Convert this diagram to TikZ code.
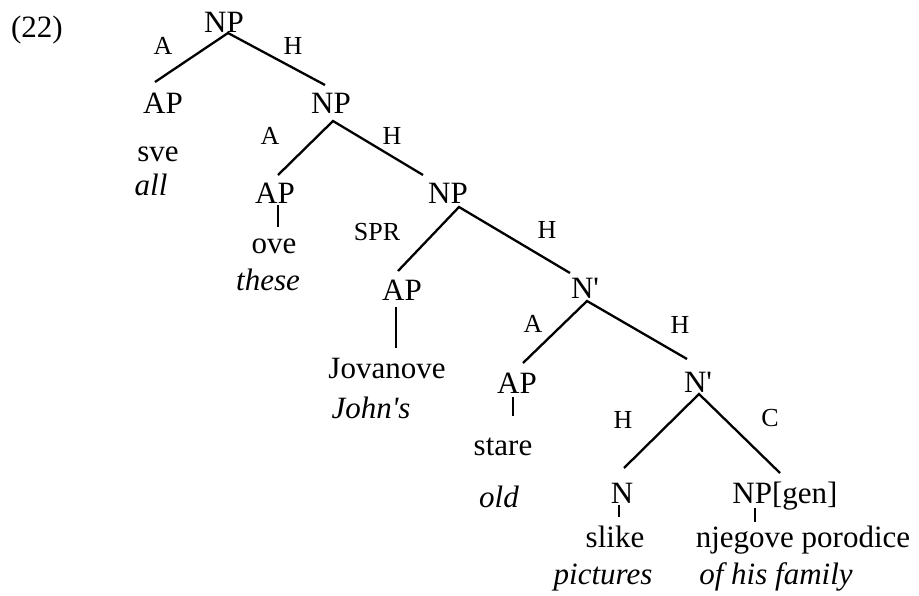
\documentclass[tikz,border=0pt]{standalone}
\usepackage{fontspec}
\setmainfont{Liberation Serif}
\tikzset{
	cat/.style={anchor=base, inner sep=0pt, font=\fontsize{31}{36}\selectfont},
	gloss/.style={cat, font=\fontsize{31}{36}\selectfont\itshape},
	rel/.style={anchor=base, inner sep=0pt, font=\fontsize{26}{30}\selectfont},
	branch/.style={line width=2.3pt}
}
\begin{document}
\begin{tikzpicture}[x=1pt, y=-1pt]
		\useasboundingbox (0,0) rectangle (919,595);
		\node[cat] (ex) at (37,37) {(22)};
		
		% Draw categories.
		\node[cat] (np1) at (224,32) {NP};
		\node[cat] (ap1) at (163,113) {AP};		\node[cat] (np2) at (331,113) {NP};
		\node[cat] (ap2) at (275,203) {AP};		\node[cat] (np3) at (448,203) {NP};
		\node[cat] (ap3) at (402,300) {AP};		\node[cat] (nb1) at (585,298) {N\textquotesingle};
		\node[cat] (ap4) at (517,393) {AP};		\node[cat] (nb2) at (698,392) {N\textquotesingle};
		\node[cat] (n) at (622,503) {N};		\node[cat] (npgen) at (785,503) {NP[gen]};
		
		% Draw words and glosses.
		\node[cat] (sve) at (158,161) {sve};		\node[gloss] (all) at (151,195) {all};
		\node[cat] (ove) at (274,253) {ove};		\node[gloss] (these) at (268,290) {these};
		\node[cat] (jov) at (387,378) {Jovanove};		\node[gloss] (johns) at (371,418) {John\textquotesingle s};
		\node[cat] (stare) at (503,455) {stare};		\node[gloss] (old) at (499,507) {old};
		\node[cat] (slike) at (615,547) {slike};		\node[gloss] (pict) at (603,584) {pictures};
		\node[cat] (njeg) at (803,547) {njegove porodice};		\node[gloss] (fam) at (776,584) {of his family};
		
		% Draw relation labels.
		\node[rel] (r1a) at (163,54) {A};		\node[rel] (r1h) at (293,54) {H};
		\node[rel] (r2a) at (270,144) {A};		\node[rel] (r2h) at (392,144) {H};
		\node[rel] (r3s) at (377,240) {SPR};		\node[rel] (r3h) at (547,238) {H};
		\node[rel] (r4a) at (533,332) {A};		\node[rel] (r4h) at (680,333) {H};
		\node[rel] (r5h) at (623,428) {H};		\node[rel] (r5c) at (770,426) {C};
		
		% Branch points.
		\coordinate (np1-f) at (228,33);		\coordinate (ap1-t) at (155,82);		\coordinate (np2-t) at (325,85);
		\coordinate (np2-f) at (333,121);		\coordinate (ap2-t) at (278,175);		\coordinate (np3-t) at (423,175);
		\coordinate (np3-f) at (459,207);		\coordinate (ap3-t) at (398,271);		\coordinate (nb1-t) at (570,273);
		\coordinate (nb1-f) at (587,301);		\coordinate (ap4-t) at (523,363);		\coordinate (nb2-t) at (687,359);
		\coordinate (nb2-f) at (699,394);		\coordinate (n-t) at (624,468);		\coordinate (npgen-t) at (780,473);
		
		% Draw branches.
		\draw[branch] (ap1-t) -- (np1-f) -- (np2-t);
		\draw[branch] (ap2-t) -- (np2-f) -- (np3-t);
		\draw[branch] (ap3-t) -- (np3-f) -- (nb1-t);
		\draw[branch] (ap4-t) -- (nb1-f) -- (nb2-t);
		\draw[branch] (n-t) -- (nb2-f) -- (npgen-t);
		
		% Draw short lines to the words.
		\draw[branch] (278,205) -- (278,227);
		\draw[branch] (396,307) -- (396,348);
		\draw[branch] (513,397) -- (513,416);
		\draw[branch] (619,505) -- (619,517);
		\draw[branch] (755,508) -- (755,522);
	\end{tikzpicture}
\end{document}
